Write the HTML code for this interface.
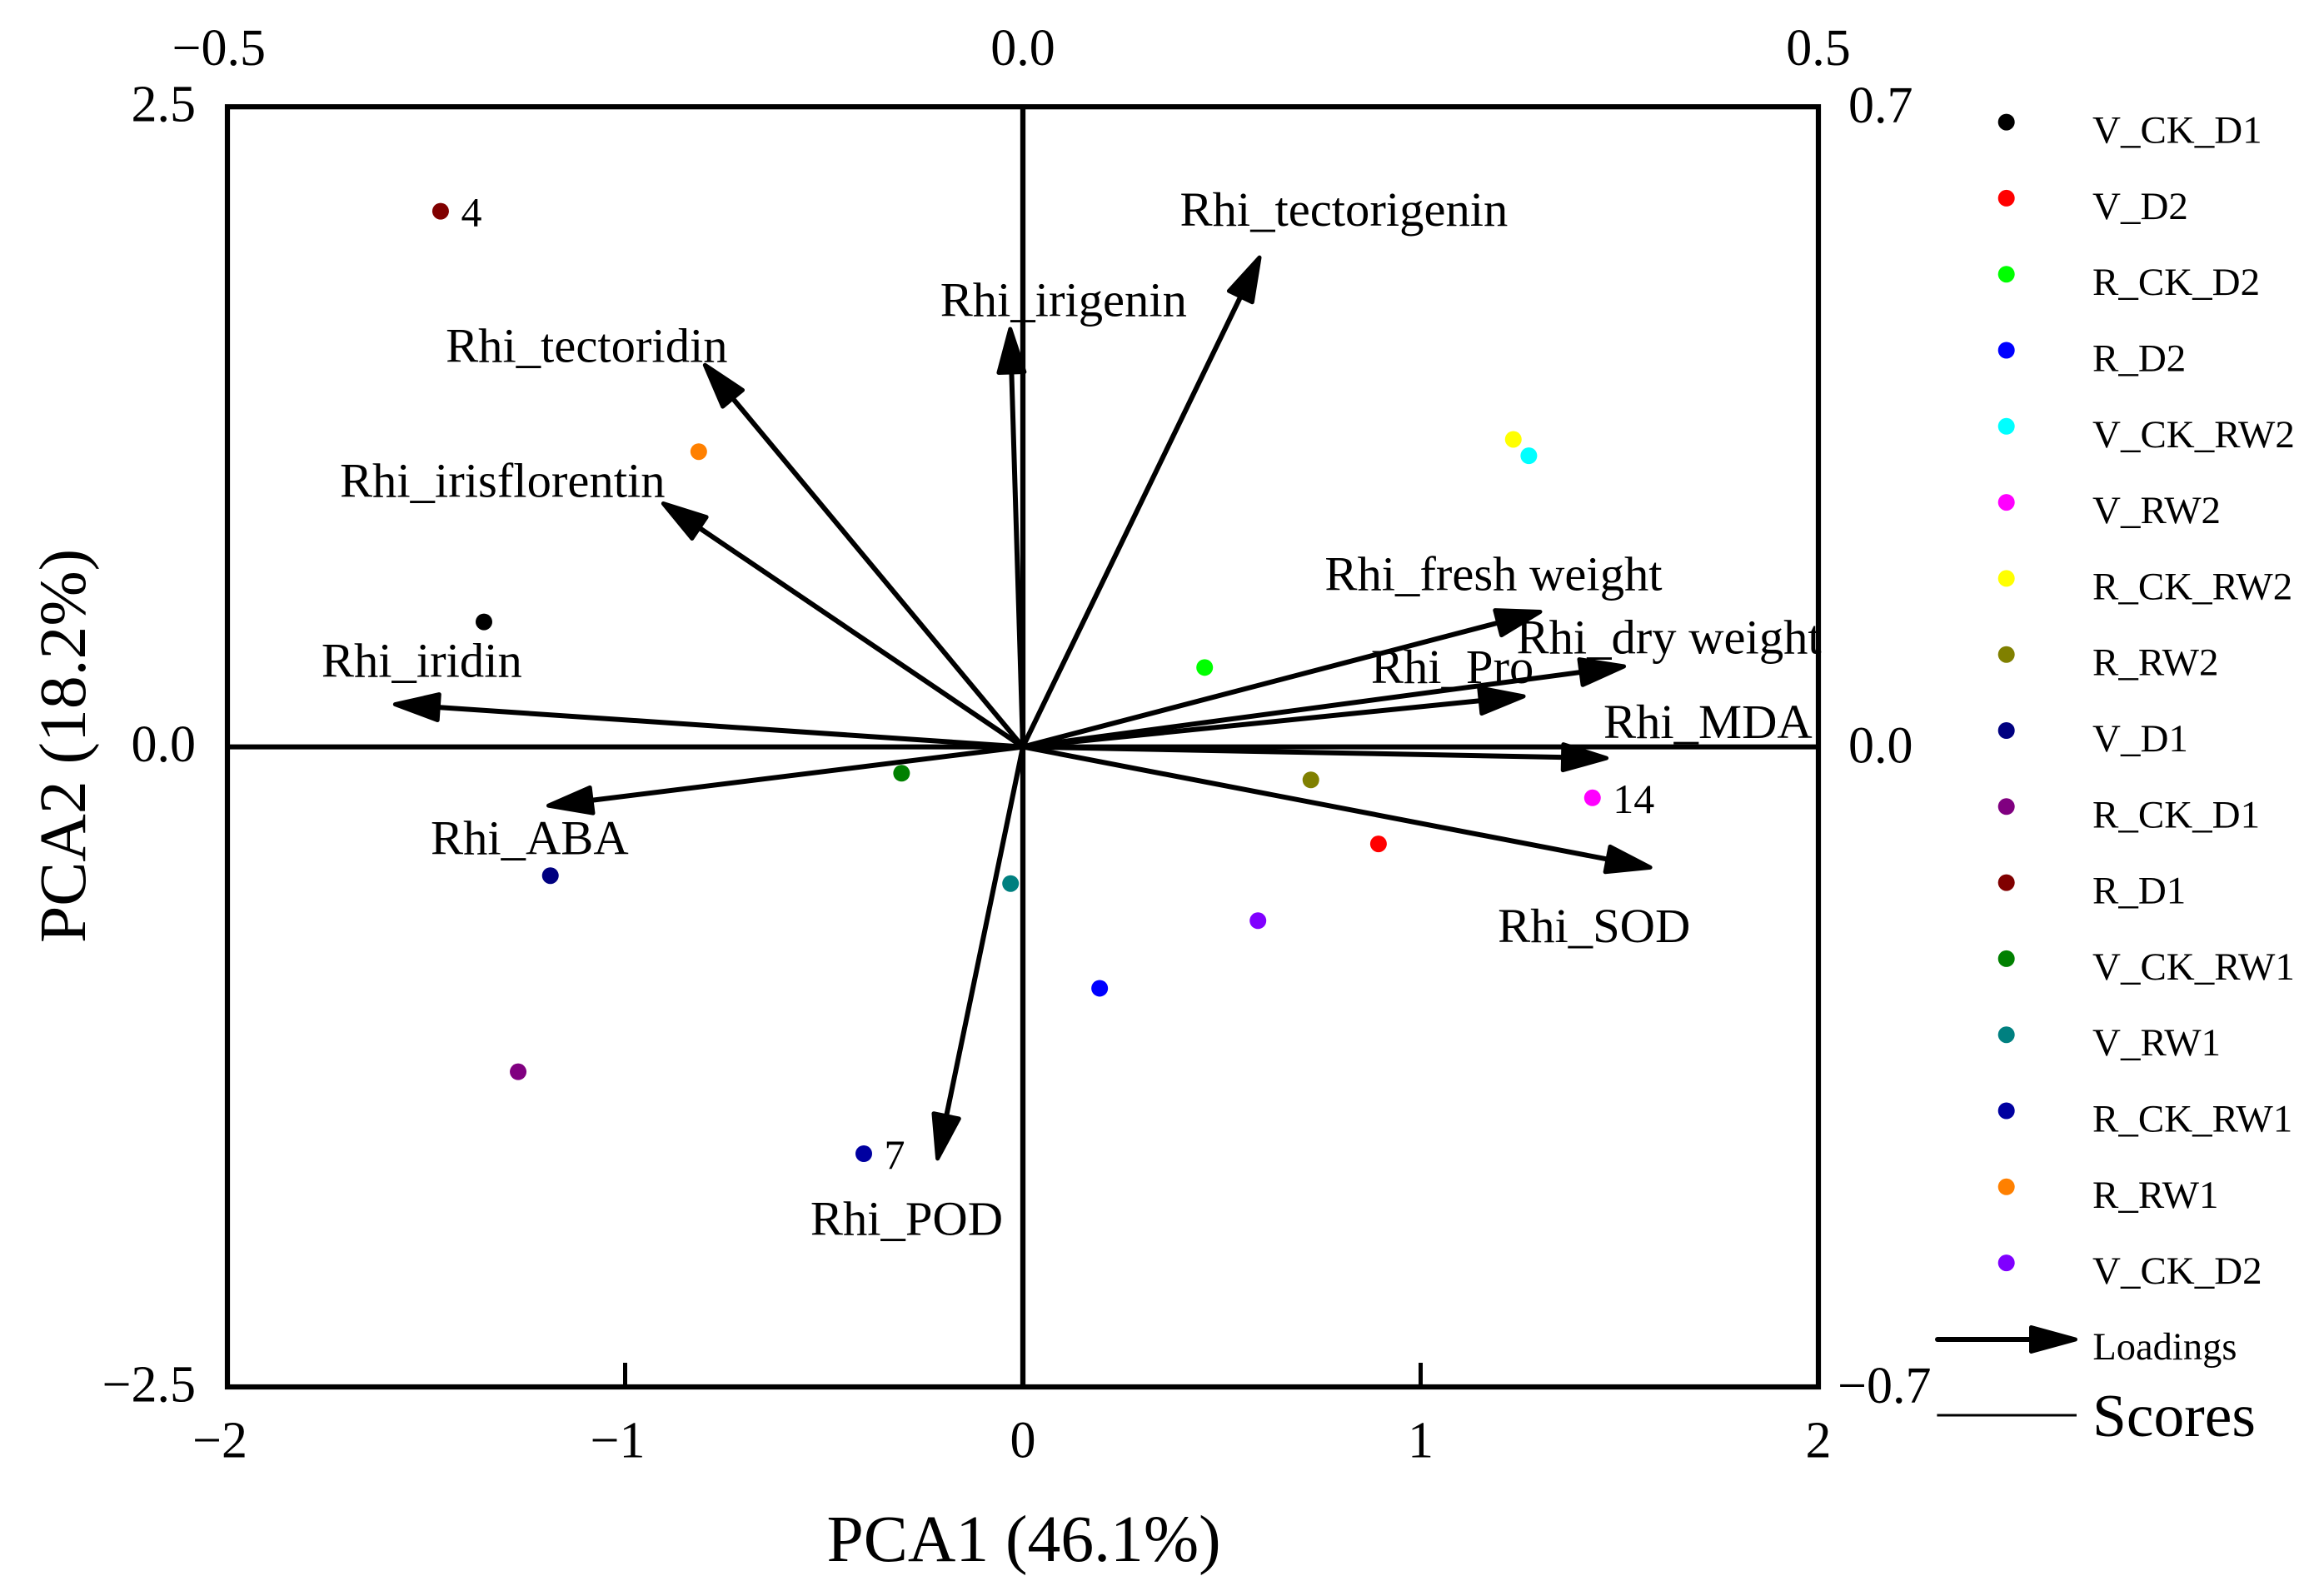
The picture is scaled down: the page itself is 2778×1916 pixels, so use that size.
<!DOCTYPE html>
<html lang="en">
<head>
<meta charset="utf-8">
<title>PCA biplot</title>
<style>
html,body{margin:0;padding:0;background:#fff;}
svg{display:block;}
text{font-family:"Liberation Serif","Times New Roman",serif;fill:#000;}
</style>
</head>
<body>
<svg id="chart" xmlns="http://www.w3.org/2000/svg" width="2778" height="1916" viewBox="0 0 2778 1916">
  <rect x="0" y="0" width="2778" height="1916" fill="#ffffff"/>
  <g id="axes"></g>
  <g id="scores"></g>
  <g id="loadings"></g>
  <g id="legend"></g>
  <text x="992.5" y="1874" font-size="79.6">PCA1 (46.1%)</text>
  <text transform="translate(102,1132) rotate(-90)" font-size="79.6">PCA2 (18.2%)</text>
</svg>
<script>
// Chart data
const scoreNames = ['V_CK_D1','V_D2','R_CK_D2','R_D2','V_CK_RW2','V_RW2','R_CK_RW2','R_RW2','V_D1','R_CK_D1','R_D1','V_CK_RW1','V_RW1','R_CK_RW1','R_RW1','V_CK_D2'];
const scorePc1 = [-1.355,0.894,0.457,0.193,1.272,1.432,1.233,0.724,-1.188,-1.269,-1.464,-0.305,-0.031,-0.400,-0.815,0.591];
const scorePc2 = [0.488,-0.379,0.310,-0.943,1.137,-0.199,1.201,-0.129,-0.503,-1.269,2.092,-0.103,-0.534,-1.589,1.153,-0.679];
const scoreColors = ['#000000','#ff0000','#00ff00','#0000ff','#00ffff','#ff00ff','#ffff00','#808000','#000080','#800080','#800000','#008000','#008080','#0000a0','#ff8000','#8000ff'];
const pointTags = {5:'14',10:'4',13:'7'};

const loadingNames = ['Rhi_tectorigenin','Rhi_irigenin','Rhi_tectoridin','Rhi_irisflorentin','Rhi_iridin','Rhi_ABA','Rhi_POD','Rhi_fresh weight','Rhi_dry weight','Rhi_Pro','Rhi_MDA','Rhi_SOD'];
const loadingPc1 = [0.1495,-0.0080,-0.2010,-0.2275,-0.3964,-0.3000,-0.0540,0.3269,0.3796,0.3165,0.3686,0.3961];
const loadingPc2 = [0.5380,0.4601,0.4200,0.2679,0.0467,-0.0647,-0.4533,0.1485,0.0884,0.0556,-0.0124,-0.1325];

const bottomTicks = [-2,-1,0,1,2];
const leftTicks = [-2.5,0,2.5];
const topTicks = [-0.5,0,0.5];
const rightTicks = [-0.7,0,0.7];

// Layout
const plot = {left:273, right:2183, top:128.2, bottom:1665};
const sx = v => plot.left + (v + 2) / 4 * (plot.right - plot.left);
const sy = v => plot.bottom - (v + 2.5) / 5 * (plot.bottom - plot.top);
const lx = v => plot.left + (v + 0.5) / 1 * (plot.right - plot.left);
const ly = v => plot.bottom - (v + 0.7) / 1.4 * (plot.bottom - plot.top);
const labelOffsetX = [-97,-84,-309,-385.5,-85,-138,-152,-262,-132.5,-186.6,-7,-186.4];
const labelOffsetY = [-35,-12,-1,-6,-33,58,88.5,-25,-15,-15.4,-24,89];

const NS = 'http://www.w3.org/2000/svg';
function make(tag, parent, attrs, txt){
  const el = document.createElementNS(NS, tag);
  for (const k in attrs) el.setAttribute(k, attrs[k]);
  if (txt !== undefined) el.textContent = txt;
  parent.appendChild(el);
  return el;
}
function fmt(v, digits){
  const s = Math.abs(v).toFixed(digits);
  return (v < 0 ? '\u2212' : '') + s;
}
function arrowHead(parent, tipX, tipY, ux, uy, len, half){
  // Inset polygon plus a thick round-joined stroke gives the blunt corners of the original heads
  const ax = tipX - ux * 3.5, ay = tipY - uy * 3.5;
  const bx = tipX - ux * (len - 2.5), by = tipY - uy * (len - 2.5);
  const px = -uy, py = ux, h = half - 2.5;
  return make('polygon', parent, {
    points: ax + ',' + ay + ' ' + (bx + px * h) + ',' + (by + py * h) + ' ' + (bx - px * h) + ',' + (by - py * h),
    fill: '#000', stroke: '#000', 'stroke-width': 5, 'stroke-linejoin': 'round'
  });
}

const axes = document.getElementById('axes');
const scoresG = document.getElementById('scores');
const loadingsG = document.getElementById('loadings');
const legendG = document.getElementById('legend');

// Zero lines
const zeroV = make('line', axes, {x1:sx(0), x2:sx(0), y1:plot.top, y2:plot.bottom, stroke:'#000', 'stroke-width':6.3});


const zeroH = make('line', axes, {x1:plot.left, x2:plot.right, y1:sy(0), y2:sy(0), stroke:'#000', 'stroke-width':6});



// Frame
const frame = make('rect', axes, {x:plot.left, y:plot.top, width:plot.right-plot.left, height:plot.bottom-plot.top, fill:'none', stroke:'#000', 'stroke-width':6.2});



// Bottom axis
bottomTicks.forEach(function(v){
  if (Math.abs(v) === 1) {
    const tick = make('line', axes, {x1:sx(v), x2:sx(v), y1:plot.bottom, y2:plot.bottom-29, stroke:'#000', 'stroke-width':5});
    
    
  }
  const t = make('text', axes, {x: v < 0 ? sx(v)+24 : sx(v), y:1749.5, 'font-size':62, 'text-anchor': v < 0 ? 'end' : 'middle'}, fmt(v,0));
  
  
});
// Left axis
leftTicks.forEach(function(v){
  const t = make('text', axes, {x:235, y:sy(v)+17.5, 'font-size':62, 'text-anchor':'end'}, fmt(v,1));
  
  
});
// Top axis
topTicks.forEach(function(v){
  const t = make('text', axes, {x: v < 0 ? lx(v)+46 : lx(v), y:78, 'font-size':62, 'text-anchor': v < 0 ? 'end' : 'middle'}, fmt(v,1));
  
  
});
// Right axis
rightTicks.forEach(function(v){
  const t = make('text', axes, {x: v < 0 ? 2206 : 2219, y:ly(v)+19, 'font-size':62, 'text-anchor':'start'}, fmt(v,1));
  
  
});

// Score points
scoreNames.forEach(function(name, i){
  const c = make('circle', scoresG, {cx:sx(scorePc1[i]), cy:sy(scorePc2[i]), r:10, fill:scoreColors[i]});
  
  
  if (pointTags[i]) {
    const t = make('text', scoresG, {x:sx(scorePc1[i])+24.5, y:sy(scorePc2[i])+18, 'font-size':50}, pointTags[i]);
    
    
  }
});

// Loadings arrows
loadingNames.forEach(function(name, i){
  const tx = lx(loadingPc1[i]), ty = ly(loadingPc2[i]);
  const ox = lx(0), oy = ly(0);
  const d = Math.hypot(tx-ox, ty-oy), ux = (tx-ox)/d, uy = (ty-oy)/d;
  const shaft = make('line', loadingsG, {x1:ox, y1:oy, x2:tx-ux*50, y2:ty-uy*50, stroke:'#000', 'stroke-width':6});
  
  
  const head = arrowHead(loadingsG, tx, ty, ux, uy, 58, 18);
  
  
  const t = make('text', loadingsG, {x:tx+labelOffsetX[i], y:ty+labelOffsetY[i], 'font-size':58.6}, name);
  
  
});

// Legend
scoreNames.forEach(function(name, i){
  const y = 146.6 + i * 91.3;
  const c = make('circle', legendG, {cx:2408.7, cy:y, r:10, fill:scoreColors[i]});
  
  
  const t = make('text', legendG, {x:2512, y:y+25, 'font-size':47}, name);
  
  
});
const legendShaft = make('line', legendG, {x1:2326, y1:1608, x2:2440, y2:1608, stroke:'#000', 'stroke-width':6, 'stroke-linecap':'round'});


const legendHead = arrowHead(legendG, 2495, 1608, 1, 0, 59, 17);


const loadingsText = make('text', legendG, {x:2512.4, y:1632, 'font-size':46.5}, 'Loadings');


const scoresLine = make('line', legendG, {x1:2325.4, y1:1699, x2:2493, y2:1699, stroke:'#000', 'stroke-width':3});


const scoresText = make('text', legendG, {x:2512, y:1723.8, 'font-size':73.5}, 'Scores');


</script>
</body>
</html>
